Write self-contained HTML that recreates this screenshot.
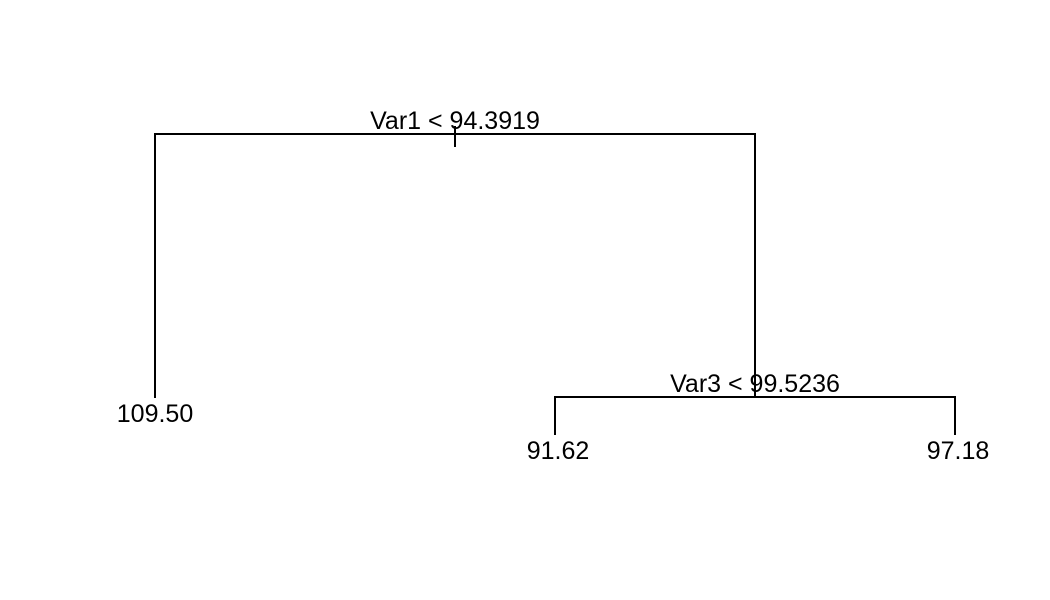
<!DOCTYPE html>
<html><head><style>body{margin:0;background:#fff}</style></head><body>
<svg width="1050" height="600" xmlns="http://www.w3.org/2000/svg" style="display:block">
<g stroke="#000" stroke-width="2" fill="none">
<path d="M155,398 V134 H755 V397"/>
<path d="M455,126 V147"/>
<path d="M555,435 V397 H955 V435"/>
</g>
<g font-family="Liberation Sans, sans-serif" font-size="25" text-anchor="middle" fill="#000">
<text x="455" y="129">Var1 &lt; 94.3919</text>
<text x="755" y="392">Var3 &lt; 99.5236</text>
<text x="155" y="422">109.50</text>
<text x="558" y="459">91.62</text>
<text x="958" y="459">97.18</text>
</g>
</svg>
</body></html>
